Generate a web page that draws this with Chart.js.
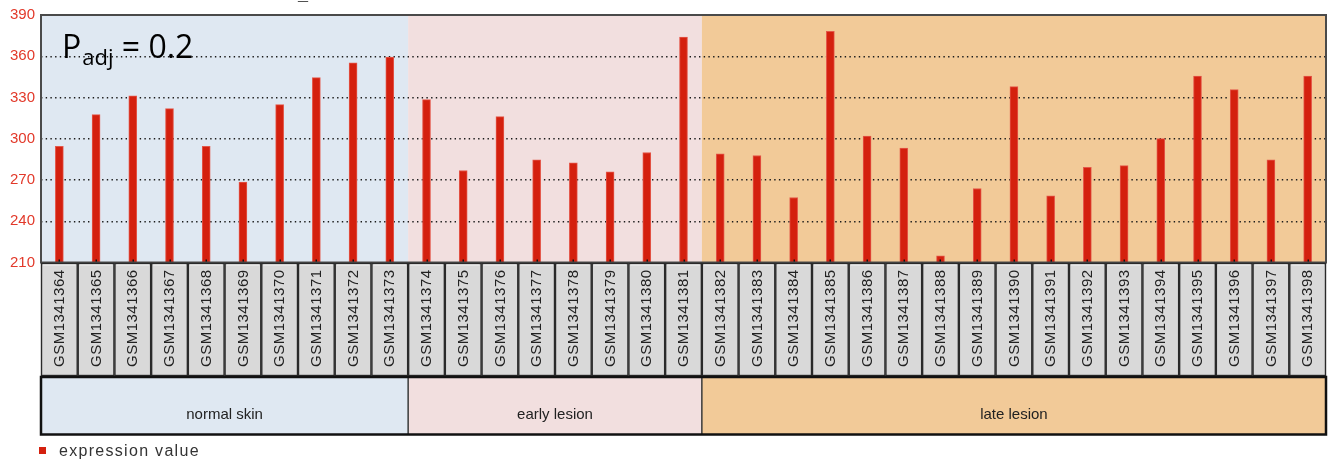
<!DOCTYPE html>
<html>
<head>
<meta charset="utf-8">
<script src="https://cdn.jsdelivr.net/npm/chart.js@4/dist/chart.umd.min.js"></script>
<style>
  html, body { margin: 0; padding: 0; background: #ffffff; }
  #wrap { width: 1329px; height: 463px; }
</style>
</head>
<body>
<div id="wrap"><canvas id="chart" width="1329" height="463"></canvas></div>
<script>
// Sample identifiers, in plotting order
const samples = [
  'GSM1341364', 'GSM1341365', 'GSM1341366', 'GSM1341367', 'GSM1341368',
  'GSM1341369', 'GSM1341370', 'GSM1341371', 'GSM1341372', 'GSM1341373',
  'GSM1341374', 'GSM1341375', 'GSM1341376', 'GSM1341377', 'GSM1341378',
  'GSM1341379', 'GSM1341380', 'GSM1341381',
  'GSM1341382', 'GSM1341383', 'GSM1341384', 'GSM1341385', 'GSM1341386',
  'GSM1341387', 'GSM1341388', 'GSM1341389', 'GSM1341390', 'GSM1341391',
  'GSM1341392', 'GSM1341393', 'GSM1341394', 'GSM1341395', 'GSM1341396',
  'GSM1341397', 'GSM1341398'
];

// Expression value per sample
const expressionValues = [
  294.5, 317.5, 331.3, 321.9, 294.5, 268.4, 324.8, 344.4, 355.3, 359.4,
  328.4, 276.9, 316.1, 284.6, 282.4, 275.9, 290.0, 373.9,
  289.0, 287.8, 257.3, 378.2, 302.0, 293.3, 214.9, 263.8, 337.9, 258.5,
  279.3, 280.5, 300.1, 345.6, 335.7, 284.6, 345.6
];

// Sample groups and how many consecutive samples each covers
const groupNames = ['normal skin', 'early lesion', 'late lesion'];
const groupSizes = [10, 8, 17];
const groupColors = ['#dfe8f2', '#f2dfdf', '#f2ca98'];

// Value axis
const yMin = 210;
const yMax = 390;
const yStep = 30;

const seriesName = 'expression value';
const barColor = '#d4200e';

function groupRanges() {
  const out = [];
  let start = 0;
  groupSizes.forEach((n, g) => {
    out.push({ start, end: start + n - 1, name: groupNames[g], color: groupColors[g] });
    start += n;
  });
  return out;
}

function catEdges(xs, i) {
  const w = xs.getPixelForValue(1) - xs.getPixelForValue(0);
  const c = xs.getPixelForValue(i);
  return [c - w / 2, c + w / 2];
}

const panelPlugin = {
  id: 'panels',
  beforeDraw(chart) {
    const { ctx, chartArea: a, scales: { x } } = chart;
    ctx.save();
    groupRanges().forEach(r => {
      const l = Math.max(a.left, catEdges(x, r.start)[0]);
      const rr = Math.min(a.right, catEdges(x, r.end)[1]);
      ctx.fillStyle = r.color;
      ctx.fillRect(l, a.top, rr - l, a.bottom - a.top);
    });
    ctx.restore();
  },
  afterDraw(chart) {
    const { ctx, chartArea: a, scales: { x } } = chart;
    ctx.save();

    // small marks at each bar base
    ctx.fillStyle = '#111';
    samples.forEach((s, i) => {
      const c = Math.round(x.getPixelForValue(i));
      ctx.fillRect(c - 0.5, a.bottom - 3, 1.5, 3);
    });

    // plot frame
    ctx.strokeStyle = '#4a4a4a';
    ctx.lineWidth = 2;
    ctx.strokeRect(a.left, a.top, a.right - a.left, a.bottom - a.top);

    // sample label boxes
    const boxTop = a.bottom + 1;
    const boxBottom = 375.5;
    samples.forEach((s, i) => {
      const [l, r] = catEdges(x, i);
      const bl = Math.max(l, a.left - 1) + 0.5;
      const br = r - 0.5;
      ctx.fillStyle = '#d9d9d9';
      ctx.fillRect(bl, boxTop, br - bl, boxBottom - boxTop);
      ctx.strokeStyle = '#2a2a2a';
      ctx.lineWidth = 1.4;
      ctx.strokeRect(bl, boxTop, br - bl, boxBottom - boxTop);
      ctx.strokeStyle = '#f2f2f2';
      ctx.lineWidth = 1;
      ctx.beginPath();
      ctx.moveTo(bl + 1.5, boxTop + 1.5);
      ctx.lineTo(br - 1.5, boxTop + 1.5);
      ctx.stroke();

      ctx.save();
      ctx.translate(x.getPixelForValue(i) + 0.5, 367);
      ctx.rotate(-Math.PI / 2);
      ctx.fillStyle = '#222';
      ctx.font = '15px "Liberation Sans", Arial, sans-serif';
      ctx.letterSpacing = '0.5px';
      ctx.textAlign = 'left';
      ctx.textBaseline = 'middle';
      ctx.fillText(s, 0, 0);
      ctx.restore();
    });

    // group band
    const bandTop = 377;
    const bandBottom = 434.5;
    const ranges = groupRanges();
    ranges.forEach((r, g) => {
      const l = g === 0 ? a.left : catEdges(x, r.start)[0];
      const rr = g === ranges.length - 1 ? a.right : catEdges(x, r.end)[1];
      ctx.fillStyle = r.color;
      ctx.fillRect(l, bandTop, rr - l, bandBottom - bandTop);
      ctx.fillStyle = '#222';
      ctx.font = '15px "Liberation Sans", Arial, sans-serif';
      ctx.letterSpacing = '0px';
      ctx.textAlign = 'center';
      ctx.textBaseline = 'middle';
      ctx.fillText(r.name, (l + rr) / 2, 415);
      if (g > 0) {
        ctx.strokeStyle = '#3a3a3a';
        ctx.lineWidth = 1.5;
        ctx.beginPath();
        ctx.moveTo(l, bandTop);
        ctx.lineTo(l, bandBottom);
        ctx.stroke();
      }
    });
    ctx.strokeStyle = '#111';
    ctx.lineWidth = 2.5;
    ctx.strokeRect(a.left, bandTop, a.right - a.left, bandBottom - bandTop);

    // legend
    ctx.fillStyle = barColor;
    ctx.fillRect(39, 447, 7, 7);
    ctx.fillStyle = '#333';
    ctx.font = '16px "Liberation Sans", Arial, sans-serif';
    ctx.letterSpacing = '1.3px';
    ctx.textAlign = 'left';
    ctx.textBaseline = 'middle';
    ctx.fillText(seriesName, 59, 451.5);
    ctx.letterSpacing = '0px';

    // adjusted p-value annotation
    ctx.fillStyle = '#000';
    ctx.textBaseline = 'alphabetic';
    ctx.font = '32px "Open Sans", "Noto Sans", sans-serif';
    ctx.fillText('P', 62, 57.5);
    const pw = ctx.measureText('P').width;
    ctx.font = '22px "Open Sans", "Noto Sans", sans-serif';
    ctx.fillText('adj', 62 + pw + 1, 65);
    const aw = ctx.measureText('adj').width;
    ctx.font = '32px "Open Sans", "Noto Sans", sans-serif';
    ctx.fillText(' = 0.2', 62 + pw + 1 + aw, 57.5);

    // clipped heading fragment at the very top
    ctx.font = 'bold 18px "Liberation Sans", Arial, sans-serif';
    ctx.fillText('_', 298, 0);

    ctx.restore();
  }
};

new Chart(document.getElementById('chart'), {
  type: 'bar',
  data: {
    labels: samples,
    datasets: [{
      label: seriesName,
      data: expressionValues,
      backgroundColor: barColor,
      borderColor: '#e4574a',
      borderWidth: 1,
      barThickness: 8
    }]
  },
  options: {
    responsive: false,
    animation: false,
    events: [],
    layout: { padding: { top: 14.5, right: 3, bottom: 200.5, left: 0 } },
    plugins: {
      legend: { display: false },
      tooltip: { enabled: false },
      title: { display: false }
    },
    scales: {
      x: {
        type: 'category',
        display: false,
        grid: { display: false }
      },
      y: {
        min: yMin,
        max: yMax,
        afterFit(scale) { scale.width = 41; },
        ticks: {
          stepSize: yStep,
          color: '#e2392a',
          padding: 6,
          font: { family: '"Liberation Sans", Arial, sans-serif', size: 15 }
        },
        grid: {
          drawTicks: false,
          color: c => (c.tick && (c.tick.value === yMin || c.tick.value === yMax)) ? 'rgba(0,0,0,0)' : '#1a1a1a',
          lineWidth: 1.4
        },
        border: { display: false, dash: [1.4, 3.3] }
      }
    }
  },
  plugins: [panelPlugin]
});
</script>
</body>
</html>
